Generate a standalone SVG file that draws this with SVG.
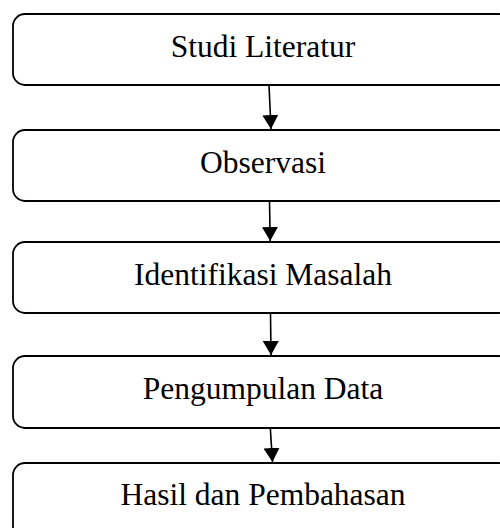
<svg xmlns="http://www.w3.org/2000/svg" width="500" height="528" viewBox="0 0 500 528">
<style>
.box{fill:#fff;stroke:#000;stroke-width:1.8}
.lbl{font-family:"Liberation Serif","Times New Roman",serif;font-size:31.5px;fill:#000;text-anchor:middle}
.con{stroke:#000;stroke-width:1.6;fill:none}
</style>
<defs>
<marker id="ah" viewBox="0 0 14 16" refX="14" refY="8" markerWidth="14" markerHeight="16" markerUnits="userSpaceOnUse" orient="auto">
<path d="M0,0 L14,8 L0,16 Z" fill="#000"/>
</marker>
</defs>
<rect width="500" height="528" fill="#fff"/>
<g id="n1"><rect class="box" x="13" y="14" width="498" height="71" rx="12"/><text class="lbl" x="263" y="57">Studi Literatur</text></g>
<g id="n2"><rect class="box" x="13" y="130" width="498" height="71" rx="12"/><text class="lbl" x="263" y="173">Observasi</text></g>
<g id="n3"><rect class="box" x="13" y="242" width="498" height="71" rx="12"/><text class="lbl" x="263" y="285">Identifikasi Masalah</text></g>
<g id="n4"><rect class="box" x="13" y="356" width="498" height="72" rx="12"/><text class="lbl" x="263" y="399">Pengumpulan Data</text></g>
<g id="n5"><rect class="box" x="13" y="463" width="498" height="80" rx="12"/><text class="lbl" x="263" y="505">Hasil dan Pembahasan</text></g>
<g id="connectors">
<line class="con" x1="269" y1="85" x2="271" y2="129" marker-end="url(#ah)"/>
<line class="con" x1="269.5" y1="201" x2="270.2" y2="241" marker-end="url(#ah)"/>
<line class="con" x1="270.5" y1="313" x2="271" y2="355" marker-end="url(#ah)"/>
<line class="con" x1="270.3" y1="428" x2="272.5" y2="462" marker-end="url(#ah)"/>
</g>
</svg>
